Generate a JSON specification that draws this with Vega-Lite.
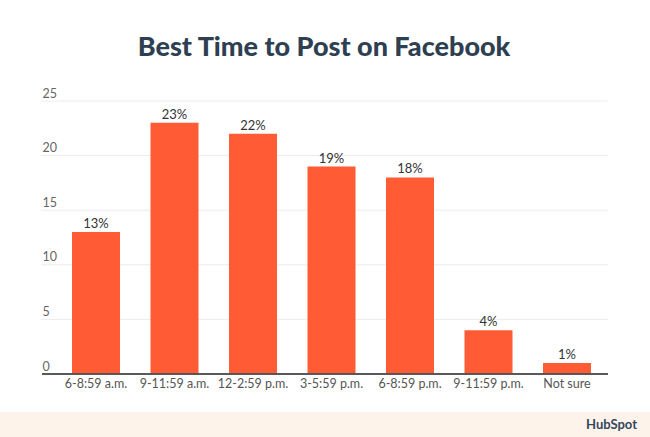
{
  "$schema": "https://vega.github.io/schema/vega-lite/v6.json",
  "padding": {"top": 34, "left": 0, "right": 0, "bottom": 0},
  "background": "white",
  "datasets": {
    "times": [
      {"slot": "6-8:59 a.m.", "share": 13},
      {"slot": "9-11:59 a.m.", "share": 23},
      {"slot": "12-2:59 p.m.", "share": 22},
      {"slot": "3-5:59 p.m.", "share": 19},
      {"slot": "6-8:59 p.m.", "share": 18},
      {"slot": "9-11:59 p.m.", "share": 4},
      {"slot": "Not sure", "share": 1}
    ],
    "gridlines": [
      {"tick": 5}, {"tick": 10}, {"tick": 15}, {"tick": 20}, {"tick": 25}
    ],
    "brand": [{"name": "HubSpot"}]
  },
  "spacing": 22,
  "vconcat": [
    {
      "title": {
        "text": "Best Time to Post on Facebook",
        "frame": "group",
        "anchor": "middle",
        "dx": 20,
        "font": "Lato",
        "fontSize": 27,
        "fontWeight": 900,
        "color": "#2e3f52",
        "offset": 25
      },
      "width": 608,
      "height": 273,
      "layer": [
        {
          "data": {"name": "gridlines"},
          "mark": {"type": "rule", "color": "#ececec", "strokeWidth": 1},
          "encoding": {
            "x": {
              "datum": "6-8:59 a.m.",
              "type": "nominal",
              "bandPosition": -0.646,
              "scale": {
                "domain": ["6-8:59 a.m.", "9-11:59 a.m.", "12-2:59 p.m.", "3-5:59 p.m.", "6-8:59 p.m.", "9-11:59 p.m.", "Not sure"],
                "paddingInner": 0.3885,
                "paddingOuter": 0.567,
                "align": 0.809
              },
              "axis": {
                "title": null,
                "bandPosition": 0.5,
                "labelAngle": 0,
                "labelAlign": "center",
                "labelFont": "Lato",
                "labelFontSize": 12.5,
                "labelColor": "#555555",
                "labelPadding": 3,
                "ticks": false,
                "domain": false
              }
            },
            "x2": {"datum": "Not sure", "bandPosition": 1.354},
            "y": {"field": "tick", "type": "quantitative"}
          }
        },
        {
          "data": {"name": "times"},
          "mark": {"type": "bar", "color": "#ff5c35"},
          "encoding": {
            "x": {"field": "slot", "type": "nominal", "sort": null},
            "y": {
              "field": "share",
              "type": "quantitative",
              "scale": {"domain": [0, 25], "nice": false},
              "axis": {
                "title": null,
                "values": [0, 5, 10, 15, 20, 25],
                "domain": false,
                "ticks": false,
                "grid": false,
                "labelPadding": -42,
                "labelAlign": "left",
                "labelBaseline": "bottom",
                "labelOffset": -1,
                "labelFont": "Lato",
                "labelFontSize": 12.5,
                "labelColor": "#666666"
              }
            }
          }
        },
        {
          "data": {"name": "times"},
          "transform": [
            {"calculate": "datum.share + '%'", "as": "label"}
          ],
          "mark": {
            "type": "text",
            "baseline": "bottom",
            "dy": -1,
            "font": "Lato",
            "fontSize": 13,
            "color": "#333333"
          },
          "encoding": {
            "x": {"field": "slot", "type": "nominal", "sort": null},
            "y": {"field": "share", "type": "quantitative"},
            "text": {"field": "label", "type": "nominal"}
          }
        },
        {
          "data": {"name": "gridlines"},
          "mark": {"type": "rule", "color": "#555555", "strokeWidth": 1},
          "encoding": {
            "x": {"datum": "6-8:59 a.m.", "type": "nominal", "bandPosition": -0.625},
            "x2": {"datum": "Not sure", "bandPosition": 1.354},
            "y": {"datum": 0, "type": "quantitative"}
          }
        }
      ]
    },
    {
      "width": 650,
      "height": 26,
      "view": {"fill": "#fdf3ea", "stroke": null},
      "data": {"name": "brand"},
      "mark": {
        "type": "text",
        "align": "right",
        "baseline": "middle",
        "dx": -13,
        "font": "Lato",
        "fontSize": 13,
        "fontWeight": "bold",
        "color": "#33475b"
      },
      "encoding": {
        "x": {"value": "width"},
        "text": {"field": "name", "type": "nominal"}
      }
    }
  ],
  "config": {
    "view": {"stroke": null}
  }
}
